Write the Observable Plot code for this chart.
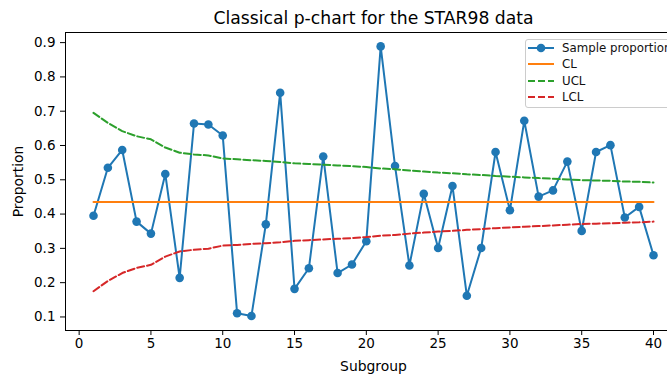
<!DOCTYPE html>
<html>
<head>
<meta charset="utf-8">
<script src="https://cdn.jsdelivr.net/npm/d3@7"></script>
<script src="https://cdn.jsdelivr.net/npm/@observablehq/plot@0.6"></script>
<style>
  html, body { margin: 0; padding: 0; background: #fff; overflow: hidden; width: 667px; height: 376px; }
  #wrap { position: relative; width: 667px; height: 376px; overflow: hidden; font-family: "DejaVu Sans", sans-serif; }
  #wrap > svg { max-width: none !important; position: absolute; left: 0; top: 0; }
  #legend { position: absolute; left: 525px; top: 39px; width: 170px; height: 67px; border: 1px solid #cccccc; border-radius: 3px; background: rgba(255,255,255,0.85); font-size: 11.8px; color: #111; }
  #legend .row { position: absolute; left: 1px; height: 16px; display: flex; align-items: center; white-space: nowrap; }
  #legend svg { width: 27px; height: 16px; margin-right: 8px; }
</style>
</head>
<body>
<div id="wrap"></div>
<script>
const subgroups = d3.range(1, 41);
const proportion = [0.395, 0.535, 0.587, 0.378, 0.343, 0.517, 0.214, 0.664, 0.661, 0.629,
                    0.111, 0.103, 0.370, 0.754, 0.182, 0.242, 0.568, 0.228, 0.253, 0.321,
                    0.889, 0.540, 0.250, 0.459, 0.301, 0.482, 0.162, 0.301, 0.581, 0.411,
                    0.672, 0.451, 0.469, 0.553, 0.351, 0.581, 0.601, 0.390, 0.421, 0.280];
const CL = 0.435;
const ucl = [0.695, 0.666, 0.642, 0.627, 0.618, 0.594, 0.579, 0.574, 0.571, 0.562,
             0.560, 0.557, 0.555, 0.552, 0.548, 0.546, 0.544, 0.542, 0.540, 0.537,
             0.533, 0.531, 0.527, 0.524, 0.521, 0.519, 0.516, 0.514, 0.511, 0.509,
             0.507, 0.505, 0.503, 0.501, 0.499, 0.498, 0.497, 0.495, 0.494, 0.492];
const lcl = [0.175, 0.205, 0.228, 0.243, 0.252, 0.276, 0.291, 0.296, 0.299, 0.308,
             0.310, 0.313, 0.315, 0.318, 0.322, 0.324, 0.326, 0.328, 0.330, 0.333,
             0.337, 0.339, 0.343, 0.346, 0.349, 0.351, 0.354, 0.356, 0.359, 0.361,
             0.363, 0.365, 0.367, 0.369, 0.371, 0.372, 0.373, 0.375, 0.376, 0.378];
const xTicks = [0, 5, 10, 15, 20, 25, 30, 35, 40];
const yTicks = [0.1, 0.2, 0.3, 0.4, 0.5, 0.6, 0.7, 0.8, 0.9];
const legendLabels = ["Sample proportion", "CL", "UCL", "LCL"];
const colors = ["#1f77b4", "#ff7f0e", "#2ca02c", "#d62728"];

const rows = subgroups.map((s, i) => ({s, p: proportion[i], cl: CL, ucl: ucl[i], lcl: lcl[i]}));

const chart = Plot.plot({
  width: 682,
  height: 376,
  marginLeft: 65,
  marginRight: 1,
  marginTop: 32,
  marginBottom: 46,
  style: {fontFamily: "DejaVu Sans, sans-serif", background: "white", color: "#000", maxWidth: "none"},
  x: {domain: [-0.95, 41.95]},
  y: {domain: [0.0605, 0.9295]},
  marks: [
    Plot.axisX({ticks: xTicks, tickSize: 5, tickPadding: 3, fontSize: 13.5, label: null, tickFormat: d3.format("d")}),
    Plot.axisY({ticks: yTicks, tickSize: 5, tickPadding: 5, fontSize: 13.5, label: null, tickFormat: d3.format(".1f")}),
    Plot.line(rows, {x: "s", y: "p", stroke: colors[0], strokeWidth: 2}),
    Plot.dot(rows, {x: "s", y: "p", fill: colors[0], r: 4.3, stroke: "none"}),
    Plot.line(rows, {x: "s", y: "cl", stroke: colors[1], strokeWidth: 2}),
    Plot.line(rows, {x: "s", y: "ucl", stroke: colors[2], strokeWidth: 2, strokeDasharray: "7,3"}),
    Plot.line(rows, {x: "s", y: "lcl", stroke: colors[3], strokeWidth: 2, strokeDasharray: "7,3"}),
    Plot.frame({stroke: "#000", strokeWidth: 1}),
    Plot.text(["Classical p-chart for the STAR98 data"], {frameAnchor: "top", dy: -14, lineAnchor: "middle", fontSize: 17.2, fill: "#000"}),
    Plot.text(["Subgroup"], {frameAnchor: "bottom", dy: 36, lineAnchor: "middle", fontSize: 13.9, fill: "#000"}),
    Plot.text(["Proportion"], {frameAnchor: "left", dx: -47, rotate: -90, lineAnchor: "middle", textAnchor: "middle", fontSize: 13.9, fill: "#000"})
  ]
});
chart.style.maxWidth = "none";
document.getElementById("wrap").appendChild(chart);

// legend
const legend = document.createElement("div");
legend.id = "legend";
const rowTops = [0, 16, 32.5, 49];
legendLabels.forEach((lab, i) => {
  const row = document.createElement("div");
  row.className = "row";
  row.style.top = rowTops[i] + "px";
  let sw = "";
  if (i === 0) sw = `<line x1="1" x2="27" y1="8" y2="8" stroke="${colors[0]}" stroke-width="2"/><circle cx="14" cy="8" r="4.3" fill="${colors[0]}"/>`;
  else if (i === 1) sw = `<line x1="1" x2="27" y1="8" y2="8" stroke="${colors[1]}" stroke-width="2"/>`;
  else sw = `<line x1="1" x2="27" y1="8" y2="8" stroke="${colors[i]}" stroke-width="2" stroke-dasharray="7,3"/>`;
  row.innerHTML = `<svg viewBox="0 0 27 16">${sw}</svg><span>${lab}</span>`;
  legend.appendChild(row);
});
document.getElementById("wrap").appendChild(legend);
</script>
</body>
</html>
